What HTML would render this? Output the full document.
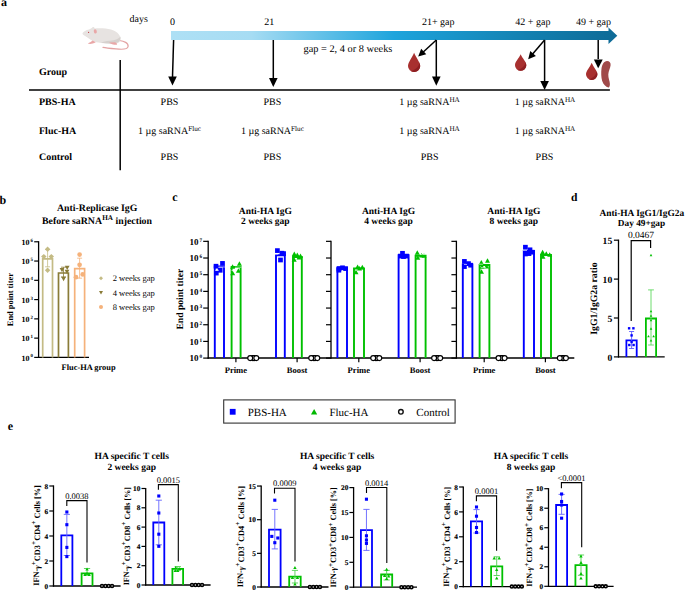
<!DOCTYPE html><html><head><meta charset="utf-8"><style>html,body{margin:0;padding:0;background:#fff;width:685px;height:590px;overflow:hidden}svg{display:block;font-family:"Liberation Serif",serif;text-rendering:geometricPrecision}</style></head><body>
<svg width="685" height="590" viewBox="0 0 685 590">
<defs><linearGradient id="tl" x1="171" y1="0" x2="618" y2="0" gradientUnits="userSpaceOnUse"><stop offset="0" stop-color="#AEE0F5"/><stop offset="0.18" stop-color="#A6DCF3"/><stop offset="0.5" stop-color="#1EA4DC"/><stop offset="0.8" stop-color="#1380B0"/><stop offset="1" stop-color="#0E6A96"/></linearGradient></defs>
<text x="1" y="5.5" font-size="12" font-weight="bold" text-anchor="start" fill="#000" >a</text>
<g><path d="M119.5 40.5C124 41 128.6 43 128.1 46.5C127.6 49 122 49.6 116 48.9C111 48.4 106 47.9 103 47.3" fill="none" stroke="#E3A3A3" stroke-width="1.25" stroke-linecap="round"/><path d="M82.5 33.3C83.5 31.5 86 30 89 29.5C90.5 29 91.5 28 92.5 27.2C93.5 26.6 94.5 27.3 94.8 28.5C99 28 106 28.2 111 29.5C116.5 31 120 34.5 120.5 38.5C120.8 41.5 118.5 43.5 115 43.7C111 44 106 43.6 101 43C97.5 42.6 94.5 42 92.5 40.8C90 39.5 87.5 37.5 85.5 36.2C83.7 35.2 82.2 34.3 82.5 33.3Z" fill="#E7E3E1"/><path d="M101 42.8C107 43.5 114 43.8 117.5 42.5C120 41.3 120.8 39 120.5 36.5C119 38.5 115.5 40.3 110 40.8C106 41.2 103 41.5 101 42.8Z" fill="#D6D1CE"/><ellipse cx="95.3" cy="31.4" rx="1.5" ry="2.2" transform="rotate(-12 95.3 31.4)" fill="#E9A7A7"/><circle cx="88.6" cy="32.3" r="0.6" fill="#C0303A"/><path d="M92.5 40.6C91 42 89.5 42.8 87.8 43.4C89.5 44.3 92.5 44 95.8 42.3Z" fill="#E9A7A7"/><path d="M109 42.4C111 43.7 113 44.8 116.6 44.8C117.6 44.4 117.2 43.2 115 42.2Z" fill="#E9A7A7"/></g>
<text x="129.6" y="22" font-size="10" text-anchor="start" fill="#000" >days</text>
<text x="172.4" y="24.6" font-size="10" text-anchor="middle" fill="#000" >0</text>
<text x="269.2" y="24.6" font-size="10" text-anchor="middle" fill="#000" >21</text>
<text x="438.2" y="24.6" font-size="10" text-anchor="middle" fill="#000" >21+ gap</text>
<text x="532.9" y="24.6" font-size="10" text-anchor="middle" fill="#000" >42 + gap</text>
<text x="593.5" y="24.6" font-size="10" text-anchor="middle" fill="#000" >49 + gap</text>
<path d="M171 31H608.5V27.6L617.3 35.7L608.5 43.9V40H171Z" fill="url(#tl)"/>
<text x="303.5" y="51.9" font-size="10.35" text-anchor="start" fill="#000" >gap = 2, 4 or 8 weeks</text>
<line x1="173.6" y1="40" x2="172.5" y2="77.4" stroke="#000" stroke-width="1.5" />
<path d="M168.2 76.4H176.8L172.5 85.5Z" fill="#000"/>
<line x1="273.3" y1="40" x2="273.3" y2="79" stroke="#000" stroke-width="1.5" />
<path d="M269 78H277.6L273.3 87.1Z" fill="#000"/>
<line x1="436.3" y1="40" x2="436.3" y2="77.6" stroke="#000" stroke-width="1.5" />
<path d="M432 76.6H440.6L436.3 85.7Z" fill="#000"/>
<line x1="544.6" y1="40" x2="544.6" y2="81.9" stroke="#000" stroke-width="1.5" />
<path d="M540.3 80.9H548.9L544.6 90Z" fill="#000"/>
<line x1="436.3" y1="40" x2="422.99" y2="52.21" stroke="#000" stroke-width="1.5" />
<path d="M421.19 48.77L418.2 56.6L426.26 54.29Z" fill="#000"/>
<line x1="544.6" y1="40" x2="532.42" y2="54.26" stroke="#000" stroke-width="1.5" />
<path d="M530.22 51.06L528.2 59.2L535.92 55.93Z" fill="#000"/>
<path d="M414.1 52.7C415.93 57.55 420.2 62.34 420.2 66A6.1 6.1 0 0 1 408 66C408 62.34 412.27 57.55 414.1 52.7Z" fill="#A8302F"/>
<path d="M420.2 66A6.1 6.1 0 0 1 411.05 71.19C416.54 69.66 418.98 66 419.59 62.34Z" fill="#8E1F22"/>
<path d="M520.65 54.3C522.35 58.42 526.3 61.76 526.3 65.15A5.65 5.65 0 0 1 515 65.15C515 61.76 518.95 58.42 520.65 54.3Z" fill="#A8302F"/>
<path d="M526.3 65.15A5.65 5.65 0 0 1 517.83 69.95C522.91 68.54 525.17 65.15 525.73 61.76Z" fill="#8E1F22"/>
<path d="M591.7 62.7C593.41 67.03 597.4 70.88 597.4 74.3A5.7 5.7 0 0 1 586 74.3C586 70.88 589.99 67.03 591.7 62.7Z" fill="#A8302F"/>
<path d="M597.4 74.3A5.7 5.7 0 0 1 588.85 79.14C593.98 77.72 596.26 74.3 596.83 70.88Z" fill="#8E1F22"/>
<path d="M607 60.9C609.6 60.9 610.9 62.6 610.6 65.2C610.2 68.2 608.5 71 608.3 74.5C608.1 78 609.9 81 609.9 84C609.9 86.5 609.1 87.6 608.4 87.4C605.8 87 603.4 84.5 602.2 81C601.1 77.5 601 72 601.5 68.5C602 64.5 604 60.9 607 60.9Z" fill="#A04A4A"/>
<line x1="598.2" y1="40" x2="598.2" y2="61" stroke="#000" stroke-width="1.5" />
<path d="M593.9 59.6H602.7L598.2 68.2Z" fill="#000" stroke="#fff" stroke-width="1.2" stroke-linejoin="miter"/>
<path d="M593.9 59.6H602.7L598.2 68.2Z" fill="#000"/>
<text x="39" y="75" font-size="10" font-weight="bold" text-anchor="start" fill="#000" >Group</text>
<line x1="29" y1="90.1" x2="609.9" y2="90.1" stroke="#000" stroke-width="1.5" />
<line x1="120.2" y1="60" x2="120.2" y2="170.3" stroke="#000" stroke-width="1.5" />
<text x="39" y="105.3" font-size="10" font-weight="bold" text-anchor="start" fill="#000" >PBS-HA</text>
<text x="39" y="133.9" font-size="10" font-weight="bold" text-anchor="start" fill="#000" >Fluc-HA</text>
<text x="39" y="160.1" font-size="10" font-weight="bold" text-anchor="start" fill="#000" >Control</text>
<text x="169.5" y="105.3" font-size="10" text-anchor="middle" fill="#000" >PBS</text>
<text x="169.5" y="133.9" font-size="10" text-anchor="middle">1 µg saRNA<tspan font-size="7.2" dy="-3.1">Fluc</tspan></text>
<text x="169.5" y="160.1" font-size="10" text-anchor="middle" fill="#000" >PBS</text>
<text x="272.4" y="105.3" font-size="10" text-anchor="middle" fill="#000" >PBS</text>
<text x="272.4" y="133.9" font-size="10" text-anchor="middle">1 µg saRNA<tspan font-size="7.2" dy="-3.1">Fluc</tspan></text>
<text x="272.4" y="160.1" font-size="10" text-anchor="middle" fill="#000" >PBS</text>
<text x="429.5" y="105.3" font-size="10" text-anchor="middle">1 µg saRNA<tspan font-size="7.2" dy="-3.1">HA</tspan></text>
<text x="429.5" y="133.9" font-size="10" text-anchor="middle">1 µg saRNA<tspan font-size="7.2" dy="-3.1">HA</tspan></text>
<text x="429.6" y="160.1" font-size="10" text-anchor="middle" fill="#000" >PBS</text>
<text x="545" y="105.3" font-size="10" text-anchor="middle">1 µg saRNA<tspan font-size="7.2" dy="-3.1">HA</tspan></text>
<text x="545" y="133.9" font-size="10" text-anchor="middle">1 µg saRNA<tspan font-size="7.2" dy="-3.1">HA</tspan></text>
<text x="544.5" y="160.1" font-size="10" text-anchor="middle" fill="#000" >PBS</text>
<text x="-0.6" y="204" font-size="12" font-weight="bold" text-anchor="start" fill="#000" >b</text>
<text x="97.2" y="211.2" font-size="9.8" font-weight="bold" text-anchor="middle" fill="#000" >Anti-Replicase IgG</text>
<text x="97" y="224.2" font-size="9.8" font-weight="bold" text-anchor="middle">Before saRNA<tspan font-size="7.2" dy="-4" dx="0.3">HA</tspan><tspan dy="4"> injection</tspan></text>
<line x1="38.6" y1="241.18" x2="38.6" y2="358" stroke="#000" stroke-width="1.3" />
<line x1="34.2" y1="357.4" x2="38.6" y2="357.4" stroke="#000" stroke-width="1.2" />
<text x="32.9" y="360.5" font-size="8.0" font-weight="bold" text-anchor="end">10<tspan font-size="4.9" dy="-3.1" dx="0.9">0</tspan></text>
<line x1="34.2" y1="338.13" x2="38.6" y2="338.13" stroke="#000" stroke-width="1.2" />
<text x="32.9" y="341.23" font-size="8.0" font-weight="bold" text-anchor="end">10<tspan font-size="4.9" dy="-3.1" dx="0.9">1</tspan></text>
<line x1="34.2" y1="318.86" x2="38.6" y2="318.86" stroke="#000" stroke-width="1.2" />
<text x="32.9" y="321.96" font-size="8.0" font-weight="bold" text-anchor="end">10<tspan font-size="4.9" dy="-3.1" dx="0.9">2</tspan></text>
<line x1="34.2" y1="299.59" x2="38.6" y2="299.59" stroke="#000" stroke-width="1.2" />
<text x="32.9" y="302.69" font-size="8.0" font-weight="bold" text-anchor="end">10<tspan font-size="4.9" dy="-3.1" dx="0.9">3</tspan></text>
<line x1="34.2" y1="280.32" x2="38.6" y2="280.32" stroke="#000" stroke-width="1.2" />
<text x="32.9" y="283.42" font-size="8.0" font-weight="bold" text-anchor="end">10<tspan font-size="4.9" dy="-3.1" dx="0.9">4</tspan></text>
<line x1="34.2" y1="261.05" x2="38.6" y2="261.05" stroke="#000" stroke-width="1.2" />
<text x="32.9" y="264.15" font-size="8.0" font-weight="bold" text-anchor="end">10<tspan font-size="4.9" dy="-3.1" dx="0.9">5</tspan></text>
<line x1="34.2" y1="241.78" x2="38.6" y2="241.78" stroke="#000" stroke-width="1.2" />
<text x="32.9" y="244.88" font-size="8.0" font-weight="bold" text-anchor="end">10<tspan font-size="4.9" dy="-3.1" dx="0.9">6</tspan></text>
<line x1="38" y1="357.4" x2="89" y2="357.4" stroke="#000" stroke-width="1.3" />
<path d="M42.7 357.4V258.9H52.5V357.4" fill="none" stroke="#C4BB85" stroke-width="1.7"/>
<path d="M58.5 357.4V273H68.4V357.4" fill="none" stroke="#8A7C38" stroke-width="1.7"/>
<path d="M74.7 357.4V268.6H84.6V357.4" fill="none" stroke="#F5B27B" stroke-width="1.7"/>
<path d="M47.6 249.5V266.8M45.1 249.5H50.1M45.1 266.8H50.1" fill="none" stroke="#C4BB85" stroke-width="0.8"/>
<path d="M47.6 246.5L50.3 249.2L47.6 251.9L44.9 249.2Z" fill="#C4BB85"/>
<path d="M43.8 253.9L46.5 256.6L43.8 259.3L41.1 256.6Z" fill="#C4BB85"/>
<path d="M51.3 253.9L54 256.6L51.3 259.3L48.6 256.6Z" fill="#C4BB85"/>
<path d="M47.6 267.6L50.3 270.3L47.6 273L44.9 270.3Z" fill="#C4BB85"/>
<path d="M63.5 267.2V277M61 267.2H66M61 277H66" fill="none" stroke="#8A7C38" stroke-width="0.8"/>
<path d="M59.6 268.04H64.4L62 272.36Z" fill="#8A7C38"/>
<path d="M64.8 265.64H69.6L67.2 269.96Z" fill="#8A7C38"/>
<path d="M64.6 269.64H69.4L67 273.96Z" fill="#8A7C38"/>
<path d="M61.2 276.84H66L63.6 281.16Z" fill="#8A7C38"/>
<path d="M79.6 258.2V278.2M77.1 258.2H82.1M77.1 278.2H82.1" fill="none" stroke="#F5B27B" stroke-width="0.8"/>
<circle cx="79.6" cy="254.6" r="2.35" fill="#F5B27B" stroke="none" stroke-width="1"/>
<circle cx="79.6" cy="264.8" r="2.35" fill="#F5B27B" stroke="none" stroke-width="1"/>
<circle cx="76" cy="277.2" r="2.35" fill="#F5B27B" stroke="none" stroke-width="1"/>
<circle cx="82.7" cy="274.4" r="2.35" fill="#F5B27B" stroke="none" stroke-width="1"/>
<text transform="translate(10.6 299.6) rotate(-90)" x="0" y="0" font-size="8.4" font-weight="bold" text-anchor="middle" dominant-baseline="central">End point titer</text>
<text x="88.6" y="370.4" font-size="8.4" font-weight="bold" text-anchor="middle" fill="#000" >Fluc-HA group</text>
<path d="M101 276.3L103 278.3L101 280.3L99 278.3Z" fill="#C4BB85"/>
<path d="M99 291H103L101 294.6Z" fill="#8A7C38"/>
<circle cx="101" cy="306.9" r="2" fill="#F5B27B" stroke="none" stroke-width="1"/>
<text x="112.7" y="281" font-size="8.5" text-anchor="start" fill="#000" >2 weeks gap</text>
<text x="112.7" y="295.5" font-size="8.5" text-anchor="start" fill="#000" >4 weeks gap</text>
<text x="112.7" y="309.7" font-size="8.5" text-anchor="start" fill="#000" >8 weeks gap</text>
<text x="172.2" y="200.6" font-size="12" font-weight="bold" text-anchor="start" fill="#000" >c</text>
<text x="265.3" y="213.6" font-size="9.5" font-weight="bold" text-anchor="middle" fill="#000" >Anti-HA IgG</text>
<text x="265.3" y="223.6" font-size="9.5" font-weight="bold" text-anchor="middle" fill="#000" >2 weeks gap</text>
<text x="388.5" y="213.6" font-size="9.5" font-weight="bold" text-anchor="middle" fill="#000" >Anti-HA IgG</text>
<text x="388.5" y="223.6" font-size="9.5" font-weight="bold" text-anchor="middle" fill="#000" >4 weeks gap</text>
<text x="513.8" y="213.6" font-size="9.5" font-weight="bold" text-anchor="middle" fill="#000" >Anti-HA IgG</text>
<text x="513.8" y="223.6" font-size="9.5" font-weight="bold" text-anchor="middle" fill="#000" >8 weeks gap</text>
<line x1="208.2" y1="240.74" x2="208.2" y2="358.7" stroke="#000" stroke-width="1.3" />
<line x1="203.2" y1="358.1" x2="208.2" y2="358.1" stroke="#000" stroke-width="1.2" />
<text x="202" y="361.4" font-size="9.0" font-weight="bold" text-anchor="end">10<tspan font-size="5.2" dy="-3.1" dx="0.9">0</tspan></text>
<line x1="203.2" y1="341.42" x2="208.2" y2="341.42" stroke="#000" stroke-width="1.2" />
<text x="202" y="344.72" font-size="9.0" font-weight="bold" text-anchor="end">10<tspan font-size="5.2" dy="-3.1" dx="0.9">1</tspan></text>
<line x1="203.2" y1="324.74" x2="208.2" y2="324.74" stroke="#000" stroke-width="1.2" />
<text x="202" y="328.04" font-size="9.0" font-weight="bold" text-anchor="end">10<tspan font-size="5.2" dy="-3.1" dx="0.9">2</tspan></text>
<line x1="203.2" y1="308.06" x2="208.2" y2="308.06" stroke="#000" stroke-width="1.2" />
<text x="202" y="311.36" font-size="9.0" font-weight="bold" text-anchor="end">10<tspan font-size="5.2" dy="-3.1" dx="0.9">3</tspan></text>
<line x1="203.2" y1="291.38" x2="208.2" y2="291.38" stroke="#000" stroke-width="1.2" />
<text x="202" y="294.68" font-size="9.0" font-weight="bold" text-anchor="end">10<tspan font-size="5.2" dy="-3.1" dx="0.9">4</tspan></text>
<line x1="203.2" y1="274.7" x2="208.2" y2="274.7" stroke="#000" stroke-width="1.2" />
<text x="202" y="278" font-size="9.0" font-weight="bold" text-anchor="end">10<tspan font-size="5.2" dy="-3.1" dx="0.9">5</tspan></text>
<line x1="203.2" y1="258.02" x2="208.2" y2="258.02" stroke="#000" stroke-width="1.2" />
<text x="202" y="261.32" font-size="9.0" font-weight="bold" text-anchor="end">10<tspan font-size="5.2" dy="-3.1" dx="0.9">6</tspan></text>
<line x1="203.2" y1="241.34" x2="208.2" y2="241.34" stroke="#000" stroke-width="1.2" />
<text x="202" y="244.64" font-size="9.0" font-weight="bold" text-anchor="end">10<tspan font-size="5.2" dy="-3.1" dx="0.9">7</tspan></text>
<line x1="331" y1="240.74" x2="331" y2="358.7" stroke="#000" stroke-width="1.3" />
<line x1="326" y1="358.1" x2="331" y2="358.1" stroke="#000" stroke-width="1.2" />
<line x1="326" y1="341.42" x2="331" y2="341.42" stroke="#000" stroke-width="1.2" />
<line x1="326" y1="324.74" x2="331" y2="324.74" stroke="#000" stroke-width="1.2" />
<line x1="326" y1="308.06" x2="331" y2="308.06" stroke="#000" stroke-width="1.2" />
<line x1="326" y1="291.38" x2="331" y2="291.38" stroke="#000" stroke-width="1.2" />
<line x1="326" y1="274.7" x2="331" y2="274.7" stroke="#000" stroke-width="1.2" />
<line x1="326" y1="258.02" x2="331" y2="258.02" stroke="#000" stroke-width="1.2" />
<line x1="326" y1="241.34" x2="331" y2="241.34" stroke="#000" stroke-width="1.2" />
<line x1="456.4" y1="240.74" x2="456.4" y2="358.7" stroke="#000" stroke-width="1.3" />
<line x1="451.4" y1="358.1" x2="456.4" y2="358.1" stroke="#000" stroke-width="1.2" />
<line x1="451.4" y1="341.42" x2="456.4" y2="341.42" stroke="#000" stroke-width="1.2" />
<line x1="451.4" y1="324.74" x2="456.4" y2="324.74" stroke="#000" stroke-width="1.2" />
<line x1="451.4" y1="308.06" x2="456.4" y2="308.06" stroke="#000" stroke-width="1.2" />
<line x1="451.4" y1="291.38" x2="456.4" y2="291.38" stroke="#000" stroke-width="1.2" />
<line x1="451.4" y1="274.7" x2="456.4" y2="274.7" stroke="#000" stroke-width="1.2" />
<line x1="451.4" y1="258.02" x2="456.4" y2="258.02" stroke="#000" stroke-width="1.2" />
<line x1="451.4" y1="241.34" x2="456.4" y2="241.34" stroke="#000" stroke-width="1.2" />
<line x1="207.6" y1="358.1" x2="574.3" y2="358.1" stroke="#000" stroke-width="1.5" />
<text transform="translate(180.6 299.2) rotate(-90)" x="0" y="0" font-size="9.6" font-weight="bold" text-anchor="middle" dominant-baseline="central">End point titer</text>
<line x1="235.9" y1="358.1" x2="235.9" y2="362.3" stroke="#000" stroke-width="1.2" />
<text x="235.9" y="372.7" font-size="8.6" font-weight="bold" text-anchor="middle" fill="#000" >Prime</text>
<line x1="297.1" y1="358.1" x2="297.1" y2="362.3" stroke="#000" stroke-width="1.2" />
<text x="297.1" y="372.7" font-size="8.6" font-weight="bold" text-anchor="middle" fill="#000" >Boost</text>
<line x1="358.8" y1="358.1" x2="358.8" y2="362.3" stroke="#000" stroke-width="1.2" />
<text x="358.8" y="372.7" font-size="8.6" font-weight="bold" text-anchor="middle" fill="#000" >Prime</text>
<line x1="420.1" y1="358.1" x2="420.1" y2="362.3" stroke="#000" stroke-width="1.2" />
<text x="420.1" y="372.7" font-size="8.6" font-weight="bold" text-anchor="middle" fill="#000" >Boost</text>
<line x1="484.2" y1="358.1" x2="484.2" y2="362.3" stroke="#000" stroke-width="1.2" />
<text x="484.2" y="372.7" font-size="8.6" font-weight="bold" text-anchor="middle" fill="#000" >Prime</text>
<line x1="545.4" y1="358.1" x2="545.4" y2="362.3" stroke="#000" stroke-width="1.2" />
<text x="545.4" y="372.7" font-size="8.6" font-weight="bold" text-anchor="middle" fill="#000" >Boost</text>
<path d="M214.8 358.1V266.5H224V358.1" fill="none" stroke="#0000FF" stroke-width="1.9"/>
<path d="M231.6 358.1V267H240.6V358.1" fill="none" stroke="#00C000" stroke-width="1.9"/>
<rect x="213.65" y="263.85" width="4.7" height="4.7" fill="#0000FF"/>
<rect x="220.15" y="261.05" width="4.7" height="4.7" fill="#0000FF"/>
<rect x="213.95" y="270.75" width="4.7" height="4.7" fill="#0000FF"/>
<rect x="217.85" y="267.95" width="4.7" height="4.7" fill="#0000FF"/>
<path d="M230.1 268.65H235.1L232.6 264.15Z" fill="#00C000"/>
<path d="M236.9 265.85H241.9L239.4 261.35Z" fill="#00C000"/>
<path d="M230.2 275.25H235.2L232.7 270.75Z" fill="#00C000"/>
<path d="M235.9 272.75H240.9L238.4 268.25Z" fill="#00C000"/>
<path d="M218.5 267H225" stroke="#fff" stroke-width="0.8" opacity="0.75"/>
<path d="M215 270.3H219" stroke="#fff" stroke-width="0.8" opacity="0.75"/>
<path d="M235 267.2H241.5" stroke="#fff" stroke-width="0.8" opacity="0.75"/>
<path d="M231.5 270.4H236" stroke="#fff" stroke-width="0.8" opacity="0.75"/>
<circle cx="252.8" cy="358.1" r="2.45" fill="#fff" stroke="#000" stroke-width="1.15"/>
<circle cx="254" cy="358.1" r="2.45" fill="#fff" stroke="#000" stroke-width="1.15"/>
<circle cx="250.2" cy="358.1" r="2.45" fill="#fff" stroke="#000" stroke-width="1.15"/>
<circle cx="256.3" cy="358.1" r="2.45" fill="#fff" stroke="#000" stroke-width="1.15"/>
<path d="M276 358.1V255.2H284.8V358.1" fill="none" stroke="#0000FF" stroke-width="1.9"/>
<path d="M293 358.1V257H301.8V358.1" fill="none" stroke="#00C000" stroke-width="1.9"/>
<rect x="275.05" y="248.25" width="4.7" height="4.7" fill="#0000FF"/>
<rect x="279.55" y="250.85" width="4.7" height="4.7" fill="#0000FF"/>
<rect x="278.15" y="257.65" width="4.7" height="4.7" fill="#0000FF"/>
<rect x="281.25" y="251.25" width="4.7" height="4.7" fill="#0000FF"/>
<path d="M291.8 256.05H296.8L294.3 251.55Z" fill="#00C000"/>
<path d="M294.8 257.05H299.8L297.3 252.55Z" fill="#00C000"/>
<path d="M298 258.05H303L300.5 253.55Z" fill="#00C000"/>
<path d="M291.7 261.85H296.7L294.2 257.35Z" fill="#00C000"/>
<path d="M296.5 259.45H301.5L299 254.95Z" fill="#00C000"/>
<path d="M275 254.2H278" stroke="#fff" stroke-width="0.8" opacity="0.75"/>
<circle cx="313.8" cy="358.1" r="2.45" fill="#fff" stroke="#000" stroke-width="1.15"/>
<circle cx="315" cy="358.1" r="2.45" fill="#fff" stroke="#000" stroke-width="1.15"/>
<circle cx="311.2" cy="358.1" r="2.45" fill="#fff" stroke="#000" stroke-width="1.15"/>
<circle cx="317.3" cy="358.1" r="2.45" fill="#fff" stroke="#000" stroke-width="1.15"/>
<path d="M337.4 358.1V268H347V358.1" fill="none" stroke="#0000FF" stroke-width="1.9"/>
<path d="M354 358.1V268.5H364V358.1" fill="none" stroke="#00C000" stroke-width="1.9"/>
<rect x="336.65" y="266.15" width="4.7" height="4.7" fill="#0000FF"/>
<rect x="340.15" y="265.45" width="4.7" height="4.7" fill="#0000FF"/>
<rect x="343.25" y="266.25" width="4.7" height="4.7" fill="#0000FF"/>
<rect x="336.55" y="267.85" width="4.7" height="4.7" fill="#0000FF"/>
<path d="M355.1 269.05H360.1L357.6 264.55Z" fill="#00C000"/>
<path d="M359.8 269.35H364.8L362.3 264.85Z" fill="#00C000"/>
<path d="M357 270.45H362L359.5 265.95Z" fill="#00C000"/>
<path d="M353.5 274.25H358.5L356 269.75Z" fill="#00C000"/>
<circle cx="375.8" cy="358.1" r="2.45" fill="#fff" stroke="#000" stroke-width="1.15"/>
<circle cx="377" cy="358.1" r="2.45" fill="#fff" stroke="#000" stroke-width="1.15"/>
<circle cx="373.2" cy="358.1" r="2.45" fill="#fff" stroke="#000" stroke-width="1.15"/>
<circle cx="379.3" cy="358.1" r="2.45" fill="#fff" stroke="#000" stroke-width="1.15"/>
<path d="M398.6 358.1V255.2H408.6V358.1" fill="none" stroke="#0000FF" stroke-width="1.9"/>
<path d="M415.6 358.1V255.8H425.6V358.1" fill="none" stroke="#00C000" stroke-width="1.9"/>
<rect x="400.15" y="250.95" width="4.7" height="4.7" fill="#0000FF"/>
<rect x="398.05" y="253.75" width="4.7" height="4.7" fill="#0000FF"/>
<rect x="404.25" y="253.75" width="4.7" height="4.7" fill="#0000FF"/>
<rect x="401.15" y="254.25" width="4.7" height="4.7" fill="#0000FF"/>
<path d="M414.8 254.85H419.8L417.3 250.35Z" fill="#00C000"/>
<path d="M419 257.55H424L421.5 253.05Z" fill="#00C000"/>
<path d="M421.5 257.85H426.5L424 253.35Z" fill="#00C000"/>
<path d="M415.3 259.65H420.3L417.8 255.15Z" fill="#00C000"/>
<path d="M420 254.5H422" stroke="#fff" stroke-width="0.8" opacity="0.75"/>
<path d="M423 254.5H425" stroke="#fff" stroke-width="0.8" opacity="0.75"/>
<circle cx="436.7" cy="358.1" r="2.45" fill="#fff" stroke="#000" stroke-width="1.15"/>
<circle cx="437.9" cy="358.1" r="2.45" fill="#fff" stroke="#000" stroke-width="1.15"/>
<circle cx="434.1" cy="358.1" r="2.45" fill="#fff" stroke="#000" stroke-width="1.15"/>
<circle cx="440.2" cy="358.1" r="2.45" fill="#fff" stroke="#000" stroke-width="1.15"/>
<path d="M462.8 358.1V264.5H472.4V358.1" fill="none" stroke="#0000FF" stroke-width="1.9"/>
<path d="M479.6 358.1V265H489.4V358.1" fill="none" stroke="#00C000" stroke-width="1.9"/>
<rect x="462.05" y="259.05" width="4.7" height="4.7" fill="#0000FF"/>
<rect x="466.15" y="261.25" width="4.7" height="4.7" fill="#0000FF"/>
<rect x="468.25" y="262.85" width="4.7" height="4.7" fill="#0000FF"/>
<rect x="462.05" y="264.25" width="4.7" height="4.7" fill="#0000FF"/>
<path d="M478.8 264.45H483.8L481.3 259.95Z" fill="#00C000"/>
<path d="M485 262.65H490L487.5 258.15Z" fill="#00C000"/>
<path d="M484 268.45H489L486.5 263.95Z" fill="#00C000"/>
<path d="M479.5 268.85H484.5L482 264.35Z" fill="#00C000"/>
<path d="M479 273.65H484L481.5 269.15Z" fill="#00C000"/>
<path d="M479 264.2H483" stroke="#fff" stroke-width="0.8" opacity="0.75"/>
<path d="M481 267.4H486" stroke="#fff" stroke-width="0.8" opacity="0.75"/>
<path d="M464 264.5H467" stroke="#fff" stroke-width="0.8" opacity="0.75"/>
<circle cx="501.1" cy="358.1" r="2.45" fill="#fff" stroke="#000" stroke-width="1.15"/>
<circle cx="502.3" cy="358.1" r="2.45" fill="#fff" stroke="#000" stroke-width="1.15"/>
<circle cx="498.5" cy="358.1" r="2.45" fill="#fff" stroke="#000" stroke-width="1.15"/>
<circle cx="504.6" cy="358.1" r="2.45" fill="#fff" stroke="#000" stroke-width="1.15"/>
<path d="M523.8 358.1V251H534V358.1" fill="none" stroke="#0000FF" stroke-width="1.9"/>
<path d="M541 358.1V255H551V358.1" fill="none" stroke="#00C000" stroke-width="1.9"/>
<rect x="523.05" y="244.85" width="4.7" height="4.7" fill="#0000FF"/>
<rect x="527.65" y="247.45" width="4.7" height="4.7" fill="#0000FF"/>
<rect x="529.95" y="249.85" width="4.7" height="4.7" fill="#0000FF"/>
<rect x="523.05" y="251.65" width="4.7" height="4.7" fill="#0000FF"/>
<rect x="526.65" y="251.25" width="4.7" height="4.7" fill="#0000FF"/>
<path d="M540.1 254.15H545.1L542.6 249.65Z" fill="#00C000"/>
<path d="M543.8 255.65H548.8L546.3 251.15Z" fill="#00C000"/>
<path d="M547.2 256.85H552.2L549.7 252.35Z" fill="#00C000"/>
<path d="M540.5 258.85H545.5L543 254.35Z" fill="#00C000"/>
<path d="M523 250.5H527" stroke="#fff" stroke-width="0.8" opacity="0.75"/>
<circle cx="562.4" cy="358.1" r="2.45" fill="#fff" stroke="#000" stroke-width="1.15"/>
<circle cx="563.6" cy="358.1" r="2.45" fill="#fff" stroke="#000" stroke-width="1.15"/>
<circle cx="559.8" cy="358.1" r="2.45" fill="#fff" stroke="#000" stroke-width="1.15"/>
<circle cx="565.9" cy="358.1" r="2.45" fill="#fff" stroke="#000" stroke-width="1.15"/>
<text x="571" y="201.2" font-size="11.6" font-weight="bold" text-anchor="start" fill="#000" >d</text>
<text x="641.8" y="215.5" font-size="9.4" font-weight="bold" text-anchor="middle" fill="#000" >Anti-HA IgG1/IgG2a</text>
<text x="641.5" y="225.7" font-size="9.3" font-weight="bold" text-anchor="middle" fill="#000" >Day 49+gap</text>
<line x1="618.5" y1="239.6" x2="618.5" y2="357.5" stroke="#000" stroke-width="1.3" />
<line x1="613.9" y1="356.9" x2="618.5" y2="356.9" stroke="#000" stroke-width="1.2" />
<text x="612.2" y="360.7" font-size="9.6" font-weight="bold" text-anchor="end" fill="#000" >0</text>
<line x1="613.9" y1="318" x2="618.5" y2="318" stroke="#000" stroke-width="1.2" />
<text x="612.2" y="321.8" font-size="9.6" font-weight="bold" text-anchor="end" fill="#000" >5</text>
<line x1="613.9" y1="279.1" x2="618.5" y2="279.1" stroke="#000" stroke-width="1.2" />
<text x="612.2" y="282.9" font-size="9.6" font-weight="bold" text-anchor="end" fill="#000" >10</text>
<line x1="613.9" y1="240.2" x2="618.5" y2="240.2" stroke="#000" stroke-width="1.2" />
<text x="612.2" y="244" font-size="9.6" font-weight="bold" text-anchor="end" fill="#000" >15</text>
<line x1="618" y1="356.9" x2="664.7" y2="356.9" stroke="#000" stroke-width="1.3" />
<text transform="translate(594.4 298.6) rotate(-90)" x="0" y="0" font-size="9.75" font-weight="bold" text-anchor="middle" dominant-baseline="central">IgG1/IgG2a ratio</text>
<path d="M626.4 356.9V340.4H636.7V356.9" fill="none" stroke="#0000FF" stroke-width="1.8"/>
<path d="M645.9 356.9V318.5H656.1V356.9" fill="none" stroke="#00C000" stroke-width="1.8"/>
<path d="M651 289.9V345M648.1 289.9H653.9M648.1 345H653.9" fill="none" stroke="#5ED85E" stroke-width="0.9"/>
<path d="M649.7 256.17H652.3L651 253.83Z" fill="#00C000"/>
<path d="M649.7 312.37H652.3L651 310.03Z" fill="#00C000"/>
<path d="M649.7 316.87H652.3L651 314.53Z" fill="#00C000"/>
<path d="M649.7 321.27H652.3L651 318.93Z" fill="#00C000"/>
<path d="M649.7 329.67H652.3L651 327.33Z" fill="#00C000"/>
<path d="M647.2 337.37H649.8L648.5 335.03Z" fill="#00C000"/>
<path d="M652.3 337.37H654.9L653.6 335.03Z" fill="#00C000"/>
<path d="M649.7 341.57H652.3L651 339.23Z" fill="#00C000"/>
<path d="M631.6 331.5V348.5M629.1 331.5H634.1M629.1 348.5H634.1" fill="none" stroke="#5A5AFF" stroke-width="0.9"/>
<rect x="627.9" y="327.1" width="2.4" height="2.4" fill="#0000FF"/>
<rect x="632.2" y="327.1" width="2.4" height="2.4" fill="#0000FF"/>
<rect x="630.4" y="334.2" width="2.4" height="2.4" fill="#0000FF"/>
<rect x="628.1" y="343.8" width="2.4" height="2.4" fill="#0000FF"/>
<rect x="632.4" y="343.8" width="2.4" height="2.4" fill="#0000FF"/>
<rect x="630.4" y="340.8" width="2.4" height="2.4" fill="#0000FF"/>
<path d="M631.2 321.1V240.6H650.6V247.9" fill="none" stroke="#000" stroke-width="1.2" />
<text x="641" y="238.1" font-size="9.5" text-anchor="middle" fill="#000" >0.0467</text>
<rect x="223.7" y="399.9" width="231.4" height="23.2" fill="#fff" stroke="#3a3a3a" stroke-width="1.15"/>
<rect x="229.8" y="408.9" width="5.8" height="5.8" fill="#0000FF"/>
<text x="247.7" y="415.5" font-size="11" text-anchor="start" fill="#000" >PBS-HA</text>
<path d="M311 414.59H317.2L314.1 409.01Z" fill="#00B800"/>
<text x="329.4" y="415.5" font-size="11" text-anchor="start" fill="#000" >Fluc-HA</text>
<circle cx="400.9" cy="411.8" r="2.3" fill="#fff" stroke="#111" stroke-width="1.4"/>
<text x="416.3" y="415.5" font-size="11" text-anchor="start" fill="#000" >Control</text>
<text x="7.8" y="430" font-size="12" font-weight="bold" text-anchor="start" fill="#000" >e</text>
<text x="131.7" y="459.2" font-size="9.5" font-weight="bold" text-anchor="middle" fill="#000" >HA specific T cells</text>
<text x="131.7" y="470.2" font-size="9.5" font-weight="bold" text-anchor="middle" fill="#000" >2 weeks gap</text>
<text x="337.1" y="459.2" font-size="9.5" font-weight="bold" text-anchor="middle" fill="#000" >HA specific T cells</text>
<text x="337.1" y="470.2" font-size="9.5" font-weight="bold" text-anchor="middle" fill="#000" >4 weeks gap</text>
<text x="531" y="459.2" font-size="9.5" font-weight="bold" text-anchor="middle" fill="#000" >HA specific T cells</text>
<text x="531" y="470.2" font-size="9.5" font-weight="bold" text-anchor="middle" fill="#000" >8 weeks gap</text>
<line x1="53.5" y1="485.4" x2="53.5" y2="586.6" stroke="#000" stroke-width="1.3" />
<line x1="49.3" y1="586" x2="53.5" y2="586" stroke="#000" stroke-width="1.2" />
<text x="48.2" y="588.6" font-size="7.3" font-weight="bold" text-anchor="end" fill="#000" stroke="#000" stroke-width="0.15">0</text>
<line x1="49.3" y1="561" x2="53.5" y2="561" stroke="#000" stroke-width="1.2" />
<text x="48.2" y="563.6" font-size="7.3" font-weight="bold" text-anchor="end" fill="#000" stroke="#000" stroke-width="0.15">2</text>
<line x1="49.3" y1="536" x2="53.5" y2="536" stroke="#000" stroke-width="1.2" />
<text x="48.2" y="538.6" font-size="7.3" font-weight="bold" text-anchor="end" fill="#000" stroke="#000" stroke-width="0.15">4</text>
<line x1="49.3" y1="511" x2="53.5" y2="511" stroke="#000" stroke-width="1.2" />
<text x="48.2" y="513.6" font-size="7.3" font-weight="bold" text-anchor="end" fill="#000" stroke="#000" stroke-width="0.15">6</text>
<line x1="49.3" y1="486" x2="53.5" y2="486" stroke="#000" stroke-width="1.2" />
<text x="48.2" y="488.6" font-size="7.3" font-weight="bold" text-anchor="end" fill="#000" stroke="#000" stroke-width="0.15">8</text>
<line x1="52.9" y1="586" x2="120.6" y2="586" stroke="#000" stroke-width="1.3" />
<path d="M61.3 586V535.3H72.4V586" fill="none" stroke="#0000FF" stroke-width="1.8"/>
<path d="M81.6 586V573.3H92.5V586" fill="none" stroke="#00C000" stroke-width="1.8"/>
<path d="M66.85 514.4V555.5M63.75 514.4H69.95M63.75 555.5H69.95" fill="none" stroke="#6464FF" stroke-width="0.9"/>
<path d="M87.05 568.5V575M83.95 568.5H90.15M83.95 575H90.15" fill="none" stroke="#50D050" stroke-width="0.9"/>
<rect x="65.3" y="510.45" width="3.1" height="3.1" fill="#0000FF"/>
<rect x="65.3" y="523.15" width="3.1" height="3.1" fill="#0000FF"/>
<rect x="65.3" y="545.85" width="3.1" height="3.1" fill="#0000FF"/>
<rect x="65.3" y="555.05" width="3.1" height="3.1" fill="#0000FF"/>
<path d="M85.35 570.53H88.75L87.05 567.47Z" fill="#00C000"/>
<path d="M85.35 574.73H88.75L87.05 571.67Z" fill="#00C000"/>
<path d="M83.35 575.93H86.75L85.05 572.87Z" fill="#00C000"/>
<path d="M87.35 575.93H90.75L89.05 572.87Z" fill="#00C000"/>
<circle cx="102" cy="586" r="1.45" fill="#fff" stroke="#000" stroke-width="1.6"/>
<circle cx="105.35" cy="586" r="1.45" fill="#fff" stroke="#000" stroke-width="1.6"/>
<circle cx="108.7" cy="586" r="1.45" fill="#fff" stroke="#000" stroke-width="1.6"/>
<circle cx="112.05" cy="586" r="1.45" fill="#fff" stroke="#000" stroke-width="1.6"/>
<path d="M66.8 505.9V500.6H87V562.6" fill="none" stroke="#000" stroke-width="1.1" />
<text x="76.9" y="498.9" font-size="8.5" text-anchor="middle" fill="#000" >0.0038</text>
<text transform="translate(36.7 535.5) rotate(-90)" x="0" y="0" font-size="8.28" font-weight="bold" text-anchor="middle" dominant-baseline="central">IFN-<tspan font-style="italic">γ</tspan><tspan font-size="7.4" dy="-3.3">+</tspan><tspan dy="3.3">CD3</tspan><tspan font-size="7.4" dy="-3.3">+</tspan><tspan dy="3.3">CD4</tspan><tspan font-size="7.4" dy="-3.3">+</tspan><tspan dy="3.3"> Cells [%]</tspan></text>
<line x1="145.7" y1="487.9" x2="145.7" y2="585.6" stroke="#000" stroke-width="1.3" />
<line x1="141.5" y1="585" x2="145.7" y2="585" stroke="#000" stroke-width="1.2" />
<text x="140.4" y="587.6" font-size="7.3" font-weight="bold" text-anchor="end" fill="#000" stroke="#000" stroke-width="0.15">0</text>
<line x1="141.5" y1="565.7" x2="145.7" y2="565.7" stroke="#000" stroke-width="1.2" />
<text x="140.4" y="568.3" font-size="7.3" font-weight="bold" text-anchor="end" fill="#000" stroke="#000" stroke-width="0.15">2</text>
<line x1="141.5" y1="546.4" x2="145.7" y2="546.4" stroke="#000" stroke-width="1.2" />
<text x="140.4" y="549" font-size="7.3" font-weight="bold" text-anchor="end" fill="#000" stroke="#000" stroke-width="0.15">4</text>
<line x1="141.5" y1="527.1" x2="145.7" y2="527.1" stroke="#000" stroke-width="1.2" />
<text x="140.4" y="529.7" font-size="7.3" font-weight="bold" text-anchor="end" fill="#000" stroke="#000" stroke-width="0.15">6</text>
<line x1="141.5" y1="507.8" x2="145.7" y2="507.8" stroke="#000" stroke-width="1.2" />
<text x="140.4" y="510.4" font-size="7.3" font-weight="bold" text-anchor="end" fill="#000" stroke="#000" stroke-width="0.15">8</text>
<line x1="141.5" y1="488.5" x2="145.7" y2="488.5" stroke="#000" stroke-width="1.2" />
<text x="140.4" y="491.1" font-size="7.3" font-weight="bold" text-anchor="end" fill="#000" stroke="#000" stroke-width="0.15">10</text>
<line x1="145.1" y1="585" x2="210.6" y2="585" stroke="#000" stroke-width="1.3" />
<path d="M153.3 585V522.5H164.3V585" fill="none" stroke="#0000FF" stroke-width="1.8"/>
<path d="M172.4 585V568.9H183.1V585" fill="none" stroke="#00C000" stroke-width="1.8"/>
<path d="M158.8 500.2V544.8M155.7 500.2H161.9M155.7 544.8H161.9" fill="none" stroke="#6464FF" stroke-width="0.9"/>
<path d="M177.75 566.5V570.5M174.65 566.5H180.85M174.65 570.5H180.85" fill="none" stroke="#50D050" stroke-width="0.9"/>
<rect x="157.25" y="494.45" width="3.1" height="3.1" fill="#0000FF"/>
<rect x="157.25" y="511.45" width="3.1" height="3.1" fill="#0000FF"/>
<rect x="157.25" y="532.65" width="3.1" height="3.1" fill="#0000FF"/>
<rect x="157.25" y="544.75" width="3.1" height="3.1" fill="#0000FF"/>
<path d="M174.05 569.03H177.45L175.75 565.97Z" fill="#00C000"/>
<path d="M178.05 570.03H181.45L179.75 566.97Z" fill="#00C000"/>
<path d="M176.05 572.03H179.45L177.75 568.97Z" fill="#00C000"/>
<path d="M173.55 572.03H176.95L175.25 568.97Z" fill="#00C000"/>
<circle cx="192" cy="585" r="1.45" fill="#fff" stroke="#000" stroke-width="1.6"/>
<circle cx="195.35" cy="585" r="1.45" fill="#fff" stroke="#000" stroke-width="1.6"/>
<circle cx="198.7" cy="585" r="1.45" fill="#fff" stroke="#000" stroke-width="1.6"/>
<circle cx="202.05" cy="585" r="1.45" fill="#fff" stroke="#000" stroke-width="1.6"/>
<path d="M158.4 489.7V484.6H178.3V561.6" fill="none" stroke="#000" stroke-width="1.1" />
<text x="168.35" y="483.3" font-size="8.5" text-anchor="middle" fill="#000" >0.0015</text>
<text transform="translate(126.5 536.2) rotate(-90)" x="0" y="0" font-size="8.04" font-weight="bold" text-anchor="middle" dominant-baseline="central">IFN-<tspan font-style="italic">γ</tspan><tspan font-size="7.4" dy="-3.3">+</tspan><tspan dy="3.3">CD3</tspan><tspan font-size="7.4" dy="-3.3">+</tspan><tspan dy="3.3">CD8</tspan><tspan font-size="7.4" dy="-3.3">+</tspan><tspan dy="3.3"> Cells [%]</tspan></text>
<line x1="261.2" y1="485.45" x2="261.2" y2="587.6" stroke="#000" stroke-width="1.3" />
<line x1="257" y1="587" x2="261.2" y2="587" stroke="#000" stroke-width="1.2" />
<text x="255.9" y="589.6" font-size="7.3" font-weight="bold" text-anchor="end" fill="#000" stroke="#000" stroke-width="0.15">0</text>
<line x1="257" y1="553.35" x2="261.2" y2="553.35" stroke="#000" stroke-width="1.2" />
<text x="255.9" y="555.95" font-size="7.3" font-weight="bold" text-anchor="end" fill="#000" stroke="#000" stroke-width="0.15">5</text>
<line x1="257" y1="519.7" x2="261.2" y2="519.7" stroke="#000" stroke-width="1.2" />
<text x="255.9" y="522.3" font-size="7.3" font-weight="bold" text-anchor="end" fill="#000" stroke="#000" stroke-width="0.15">10</text>
<line x1="257" y1="486.05" x2="261.2" y2="486.05" stroke="#000" stroke-width="1.2" />
<text x="255.9" y="488.65" font-size="7.3" font-weight="bold" text-anchor="end" fill="#000" stroke="#000" stroke-width="0.15">15</text>
<line x1="260.6" y1="587" x2="328.5" y2="587" stroke="#000" stroke-width="1.3" />
<path d="M269 587V529.7H280.6V587" fill="none" stroke="#0000FF" stroke-width="1.8"/>
<path d="M289.2 587V576.6H300.7V587" fill="none" stroke="#00C000" stroke-width="1.8"/>
<path d="M274.8 509.4V548.9M271.7 509.4H277.9M271.7 548.9H277.9" fill="none" stroke="#6464FF" stroke-width="0.9"/>
<path d="M294.95 570.4V583M291.85 570.4H298.05M291.85 583H298.05" fill="none" stroke="#50D050" stroke-width="0.9"/>
<rect x="273.25" y="498.65" width="3.1" height="3.1" fill="#0000FF"/>
<rect x="270.25" y="534.85" width="3.1" height="3.1" fill="#0000FF"/>
<rect x="276.25" y="536.45" width="3.1" height="3.1" fill="#0000FF"/>
<rect x="273.25" y="541.15" width="3.1" height="3.1" fill="#0000FF"/>
<path d="M293.25 569.03H296.65L294.95 565.97Z" fill="#00C000"/>
<path d="M290.75 579.03H294.15L292.45 575.97Z" fill="#00C000"/>
<path d="M295.75 579.03H299.15L297.45 575.97Z" fill="#00C000"/>
<path d="M293.25 585.53H296.65L294.95 582.47Z" fill="#00C000"/>
<circle cx="309.9" cy="587" r="1.45" fill="#fff" stroke="#000" stroke-width="1.6"/>
<circle cx="313.25" cy="587" r="1.45" fill="#fff" stroke="#000" stroke-width="1.6"/>
<circle cx="316.6" cy="587" r="1.45" fill="#fff" stroke="#000" stroke-width="1.6"/>
<circle cx="319.95" cy="587" r="1.45" fill="#fff" stroke="#000" stroke-width="1.6"/>
<path d="M274.5 493.4V488.2H295V561.6" fill="none" stroke="#000" stroke-width="1.1" />
<text x="284.75" y="486.2" font-size="8.5" text-anchor="middle" fill="#000" >0.0009</text>
<text transform="translate(240.7 536.6) rotate(-90)" x="0" y="0" font-size="8.33" font-weight="bold" text-anchor="middle" dominant-baseline="central">IFN-<tspan font-style="italic">γ</tspan><tspan font-size="7.4" dy="-3.3">+</tspan><tspan dy="3.3">CD3</tspan><tspan font-size="7.4" dy="-3.3">+</tspan><tspan dy="3.3">CD4</tspan><tspan font-size="7.4" dy="-3.3">+</tspan><tspan dy="3.3"> Cells [%]</tspan></text>
<line x1="353.6" y1="487" x2="353.6" y2="587.8" stroke="#000" stroke-width="1.3" />
<line x1="349.4" y1="587.2" x2="353.6" y2="587.2" stroke="#000" stroke-width="1.2" />
<text x="348.3" y="589.8" font-size="7.3" font-weight="bold" text-anchor="end" fill="#000" stroke="#000" stroke-width="0.15">0</text>
<line x1="349.4" y1="562.3" x2="353.6" y2="562.3" stroke="#000" stroke-width="1.2" />
<text x="348.3" y="564.9" font-size="7.3" font-weight="bold" text-anchor="end" fill="#000" stroke="#000" stroke-width="0.15">5</text>
<line x1="349.4" y1="537.4" x2="353.6" y2="537.4" stroke="#000" stroke-width="1.2" />
<text x="348.3" y="540" font-size="7.3" font-weight="bold" text-anchor="end" fill="#000" stroke="#000" stroke-width="0.15">10</text>
<line x1="349.4" y1="512.5" x2="353.6" y2="512.5" stroke="#000" stroke-width="1.2" />
<text x="348.3" y="515.1" font-size="7.3" font-weight="bold" text-anchor="end" fill="#000" stroke="#000" stroke-width="0.15">15</text>
<line x1="349.4" y1="487.6" x2="353.6" y2="487.6" stroke="#000" stroke-width="1.2" />
<text x="348.3" y="490.2" font-size="7.3" font-weight="bold" text-anchor="end" fill="#000" stroke="#000" stroke-width="0.15">20</text>
<line x1="353" y1="587.2" x2="417" y2="587.2" stroke="#000" stroke-width="1.3" />
<path d="M360.9 587.2V530.2H372V587.2" fill="none" stroke="#0000FF" stroke-width="1.8"/>
<path d="M381.1 587.2V574.5H392.2V587.2" fill="none" stroke="#00C000" stroke-width="1.8"/>
<path d="M366.45 509.4V550.4M363.35 509.4H369.55M363.35 550.4H369.55" fill="none" stroke="#6464FF" stroke-width="0.9"/>
<path d="M386.65 570.4V580M383.55 570.4H389.75M383.55 580H389.75" fill="none" stroke="#50D050" stroke-width="0.9"/>
<rect x="364.9" y="497.65" width="3.1" height="3.1" fill="#0000FF"/>
<rect x="364.9" y="534.25" width="3.1" height="3.1" fill="#0000FF"/>
<rect x="364.9" y="538.45" width="3.1" height="3.1" fill="#0000FF"/>
<rect x="364.9" y="541.85" width="3.1" height="3.1" fill="#0000FF"/>
<path d="M384.95 570.83H388.35L386.65 567.77Z" fill="#00C000"/>
<path d="M382.95 577.03H386.35L384.65 573.97Z" fill="#00C000"/>
<path d="M386.95 577.53H390.35L388.65 574.47Z" fill="#00C000"/>
<path d="M384.95 580.03H388.35L386.65 576.97Z" fill="#00C000"/>
<circle cx="401.4" cy="587.2" r="1.45" fill="#fff" stroke="#000" stroke-width="1.6"/>
<circle cx="404.75" cy="587.2" r="1.45" fill="#fff" stroke="#000" stroke-width="1.6"/>
<circle cx="408.1" cy="587.2" r="1.45" fill="#fff" stroke="#000" stroke-width="1.6"/>
<circle cx="411.45" cy="587.2" r="1.45" fill="#fff" stroke="#000" stroke-width="1.6"/>
<path d="M366.5 493V487.5H386.8V563.1" fill="none" stroke="#000" stroke-width="1.1" />
<text x="376.65" y="486.2" font-size="8.5" text-anchor="middle" fill="#000" >0.0014</text>
<text transform="translate(333.4 537.4) rotate(-90)" x="0" y="0" font-size="8.23" font-weight="bold" text-anchor="middle" dominant-baseline="central">IFN-<tspan font-style="italic">γ</tspan><tspan font-size="7.4" dy="-3.3">+</tspan><tspan dy="3.3">CD3</tspan><tspan font-size="7.4" dy="-3.3">+</tspan><tspan dy="3.3">CD8</tspan><tspan font-size="7.4" dy="-3.3">+</tspan><tspan dy="3.3"> Cells [%]</tspan></text>
<line x1="463.3" y1="486.4" x2="463.3" y2="587.2" stroke="#000" stroke-width="1.3" />
<line x1="459.1" y1="586.6" x2="463.3" y2="586.6" stroke="#000" stroke-width="1.2" />
<text x="458" y="589.2" font-size="7.3" font-weight="bold" text-anchor="end" fill="#000" stroke="#000" stroke-width="0.15">0</text>
<line x1="459.1" y1="561.7" x2="463.3" y2="561.7" stroke="#000" stroke-width="1.2" />
<text x="458" y="564.3" font-size="7.3" font-weight="bold" text-anchor="end" fill="#000" stroke="#000" stroke-width="0.15">2</text>
<line x1="459.1" y1="536.8" x2="463.3" y2="536.8" stroke="#000" stroke-width="1.2" />
<text x="458" y="539.4" font-size="7.3" font-weight="bold" text-anchor="end" fill="#000" stroke="#000" stroke-width="0.15">4</text>
<line x1="459.1" y1="511.9" x2="463.3" y2="511.9" stroke="#000" stroke-width="1.2" />
<text x="458" y="514.5" font-size="7.3" font-weight="bold" text-anchor="end" fill="#000" stroke="#000" stroke-width="0.15">6</text>
<line x1="459.1" y1="487" x2="463.3" y2="487" stroke="#000" stroke-width="1.2" />
<text x="458" y="489.6" font-size="7.3" font-weight="bold" text-anchor="end" fill="#000" stroke="#000" stroke-width="0.15">8</text>
<line x1="462.7" y1="586.6" x2="523.7" y2="586.6" stroke="#000" stroke-width="1.3" />
<path d="M470.9 586.6V521.4H482.1V586.6" fill="none" stroke="#0000FF" stroke-width="1.8"/>
<path d="M491.1 586.6V566.4H502.3V586.6" fill="none" stroke="#00C000" stroke-width="1.8"/>
<path d="M476.5 509.6V533M473.4 509.6H479.6M473.4 533H479.6" fill="none" stroke="#6464FF" stroke-width="0.9"/>
<path d="M496.7 556.8V575.5M493.6 556.8H499.8M493.6 575.5H499.8" fill="none" stroke="#50D050" stroke-width="0.9"/>
<rect x="474.95" y="505.45" width="3.1" height="3.1" fill="#0000FF"/>
<rect x="474.95" y="514.65" width="3.1" height="3.1" fill="#0000FF"/>
<rect x="474.95" y="525.95" width="3.1" height="3.1" fill="#0000FF"/>
<rect x="474.95" y="530.95" width="3.1" height="3.1" fill="#0000FF"/>
<path d="M492.5 559.53H495.9L494.2 556.47Z" fill="#00C000"/>
<path d="M497.5 559.53H500.9L499.2 556.47Z" fill="#00C000"/>
<path d="M495 571.03H498.4L496.7 567.97Z" fill="#00C000"/>
<path d="M495 579.53H498.4L496.7 576.47Z" fill="#00C000"/>
<circle cx="511.8" cy="586.6" r="1.45" fill="#fff" stroke="#000" stroke-width="1.6"/>
<circle cx="515.15" cy="586.6" r="1.45" fill="#fff" stroke="#000" stroke-width="1.6"/>
<circle cx="518.5" cy="586.6" r="1.45" fill="#fff" stroke="#000" stroke-width="1.6"/>
<circle cx="521.85" cy="586.6" r="1.45" fill="#fff" stroke="#000" stroke-width="1.6"/>
<path d="M476.4 501.2V495.9H496.6V550.7" fill="none" stroke="#000" stroke-width="1.1" />
<text x="486.5" y="494.3" font-size="8.5" text-anchor="middle" fill="#000" >0.0001</text>
<text transform="translate(446.5 536.8) rotate(-90)" x="0" y="0" font-size="8.23" font-weight="bold" text-anchor="middle" dominant-baseline="central">IFN-<tspan font-style="italic">γ</tspan><tspan font-size="7.4" dy="-3.3">+</tspan><tspan dy="3.3">CD3</tspan><tspan font-size="7.4" dy="-3.3">+</tspan><tspan dy="3.3">CD4</tspan><tspan font-size="7.4" dy="-3.3">+</tspan><tspan dy="3.3"> Cells [%]</tspan></text>
<line x1="548.5" y1="488.1" x2="548.5" y2="586.9" stroke="#000" stroke-width="1.3" />
<line x1="544.3" y1="586.3" x2="548.5" y2="586.3" stroke="#000" stroke-width="1.2" />
<text x="543.2" y="588.9" font-size="7.3" font-weight="bold" text-anchor="end" fill="#000" stroke="#000" stroke-width="0.15">0</text>
<line x1="544.3" y1="566.78" x2="548.5" y2="566.78" stroke="#000" stroke-width="1.2" />
<text x="543.2" y="569.38" font-size="7.3" font-weight="bold" text-anchor="end" fill="#000" stroke="#000" stroke-width="0.15">2</text>
<line x1="544.3" y1="547.26" x2="548.5" y2="547.26" stroke="#000" stroke-width="1.2" />
<text x="543.2" y="549.86" font-size="7.3" font-weight="bold" text-anchor="end" fill="#000" stroke="#000" stroke-width="0.15">4</text>
<line x1="544.3" y1="527.74" x2="548.5" y2="527.74" stroke="#000" stroke-width="1.2" />
<text x="543.2" y="530.34" font-size="7.3" font-weight="bold" text-anchor="end" fill="#000" stroke="#000" stroke-width="0.15">6</text>
<line x1="544.3" y1="508.22" x2="548.5" y2="508.22" stroke="#000" stroke-width="1.2" />
<text x="543.2" y="510.82" font-size="7.3" font-weight="bold" text-anchor="end" fill="#000" stroke="#000" stroke-width="0.15">8</text>
<line x1="544.3" y1="488.7" x2="548.5" y2="488.7" stroke="#000" stroke-width="1.2" />
<text x="543.2" y="491.3" font-size="7.3" font-weight="bold" text-anchor="end" fill="#000" stroke="#000" stroke-width="0.15">10</text>
<line x1="547.9" y1="586.3" x2="613.6" y2="586.3" stroke="#000" stroke-width="1.3" />
<path d="M556.1 586.3V505H567.1V586.3" fill="none" stroke="#0000FF" stroke-width="1.8"/>
<path d="M575.4 586.3V565.2H586.6V586.3" fill="none" stroke="#00C000" stroke-width="1.8"/>
<path d="M561.6 494.4V514.3M558.5 494.4H564.7M558.5 514.3H564.7" fill="none" stroke="#6464FF" stroke-width="0.9"/>
<path d="M581 555V575.3M577.9 555H584.1M577.9 575.3H584.1" fill="none" stroke="#50D050" stroke-width="0.9"/>
<rect x="560.05" y="492.45" width="3.1" height="3.1" fill="#0000FF"/>
<rect x="560.05" y="499.95" width="3.1" height="3.1" fill="#0000FF"/>
<rect x="560.05" y="503.45" width="3.1" height="3.1" fill="#0000FF"/>
<rect x="560.05" y="516.65" width="3.1" height="3.1" fill="#0000FF"/>
<path d="M579.3 557.53H582.7L581 554.47Z" fill="#00C000"/>
<path d="M579.3 564.03H582.7L581 560.97Z" fill="#00C000"/>
<path d="M579.3 575.03H582.7L581 571.97Z" fill="#00C000"/>
<path d="M579.3 579.53H582.7L581 576.47Z" fill="#00C000"/>
<circle cx="595.7" cy="586.3" r="1.45" fill="#fff" stroke="#000" stroke-width="1.6"/>
<circle cx="599.05" cy="586.3" r="1.45" fill="#fff" stroke="#000" stroke-width="1.6"/>
<circle cx="602.4" cy="586.3" r="1.45" fill="#fff" stroke="#000" stroke-width="1.6"/>
<circle cx="605.75" cy="586.3" r="1.45" fill="#fff" stroke="#000" stroke-width="1.6"/>
<path d="M561.4 488.3V482.6H581.7V547.3" fill="none" stroke="#000" stroke-width="1.1" />
<text x="571.55" y="481.1" font-size="8.5" text-anchor="middle" fill="#000" >&lt;0.0001</text>
<text transform="translate(529.4 537.6) rotate(-90)" x="0" y="0" font-size="8.04" font-weight="bold" text-anchor="middle" dominant-baseline="central">IFN-<tspan font-style="italic">γ</tspan><tspan font-size="7.4" dy="-3.3">+</tspan><tspan dy="3.3">CD3</tspan><tspan font-size="7.4" dy="-3.3">+</tspan><tspan dy="3.3">CD8</tspan><tspan font-size="7.4" dy="-3.3">+</tspan><tspan dy="3.3"> Cells [%]</tspan></text>
</svg></body></html>
